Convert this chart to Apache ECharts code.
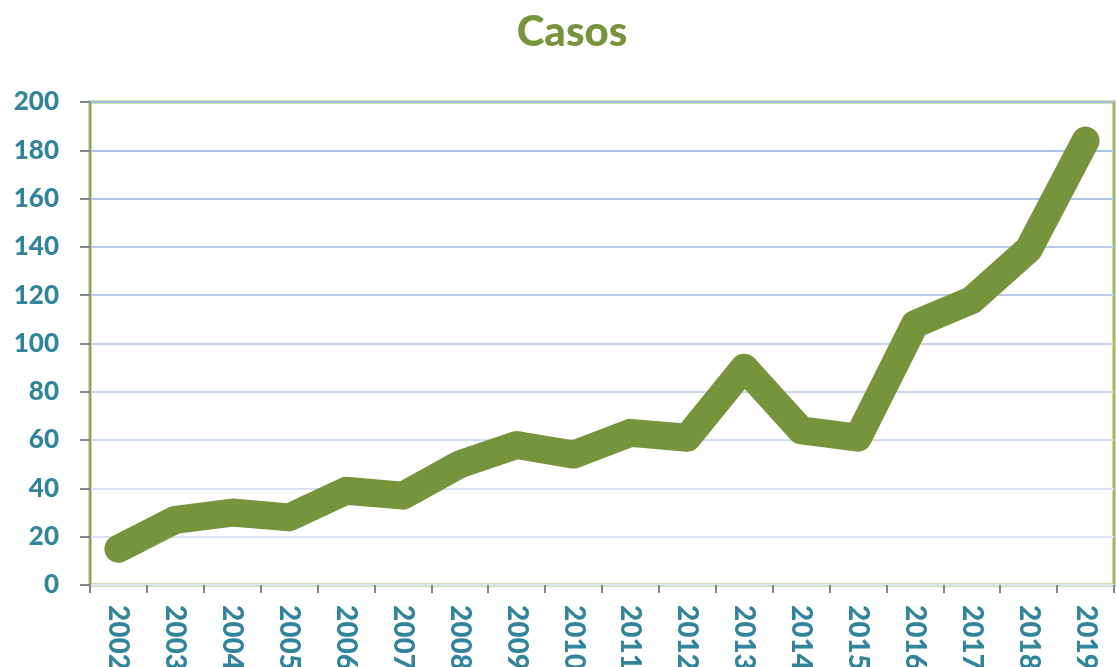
<!DOCTYPE html>
<html>
<head>
<meta charset="utf-8">
<script src="https://cdn.jsdelivr.net/npm/echarts@6/dist/echarts.min.js"></script>
<style>
  html, body { margin: 0; padding: 0; background: #ffffff; }
  #chart { width: 1116px; height: 667px; }
</style>
</head>
<body>
<div id="chart"></div>
<script>
const years = ['2002', '2003', '2004', '2005', '2006', '2007', '2008', '2009', '2010',
  '2011', '2012', '2013', '2014', '2015', '2016', '2017', '2018', '2019']
const casos = [15, 27, 30, 28, 39, 37, 50, 58, 54, 63, 61, 90, 64, 61, 108, 118, 139, 184]

const labelColor = '#31849B'
const green = '#77933C'

const chart = echarts.init(document.getElementById('chart'))
const option = {
  backgroundColor: '#ffffff',
  animation: false,
  title: {
    text: 'Casos',
    left: 567,
    top: 6,
    textAlign: 'center',
    textStyle: {
      color: green,
      fontFamily: 'Lato',
      fontWeight: 900,
      fontSize: 42
    }
  },
  grid: {
    left: 90,
    right: 2,
    top: 102,
    bottom: 82,
    containLabel: false,
    outerBoundsMode: 'none',
    show: true,
    borderColor: '#9BBB59',
    borderWidth: 3,
    backgroundColor: '#ffffff'
  },
  xAxis: {
    type: 'category',
    data: years,
    boundaryGap: true,
    axisLine: { show: false },
    axisTick: {
      show: true,
      length: 8,
      lineStyle: { color: '#868686', width: 2 }
    },
    axisLabel: {
      rotate: -90,
      margin: 20,
      color: labelColor,
      fontFamily: 'Lato',
      fontWeight: 900,
      fontSize: 28
    },
    splitLine: { show: false }
  },
  yAxis: {
    type: 'value',
    min: 0,
    max: 200,
    interval: 20,
    axisLine: { show: true, lineStyle: { color: '#868686', width: 1 } },
    axisTick: {
      show: true,
      length: 10,
      lineStyle: { color: '#868686', width: 2 }
    },
    axisLabel: {
      margin: 31,
      color: labelColor,
      fontFamily: 'Lato',
      fontWeight: 900,
      fontSize: 26
    },
    splitLine: {
      show: true,
      lineStyle: {
        width: 2,
        color: ['#DCE6F4', '#DAE4F3', '#D6E1F2', '#D0DCF0', '#CAD8EE', '#C4D3EC',
          '#BECEEA', '#B8CAE8', '#B1C4E7', '#ABC0E6', '#A6BCE5']
      }
    }
  },
  series: [{
    name: 'Casos',
    type: 'line',
    data: casos,
    symbol: 'none',
    lineStyle: {
      color: green,
      width: 28,
      cap: 'round',
      join: 'round'
    }
  }]
}
chart.setOption(option)
</script>
</body>
</html>
